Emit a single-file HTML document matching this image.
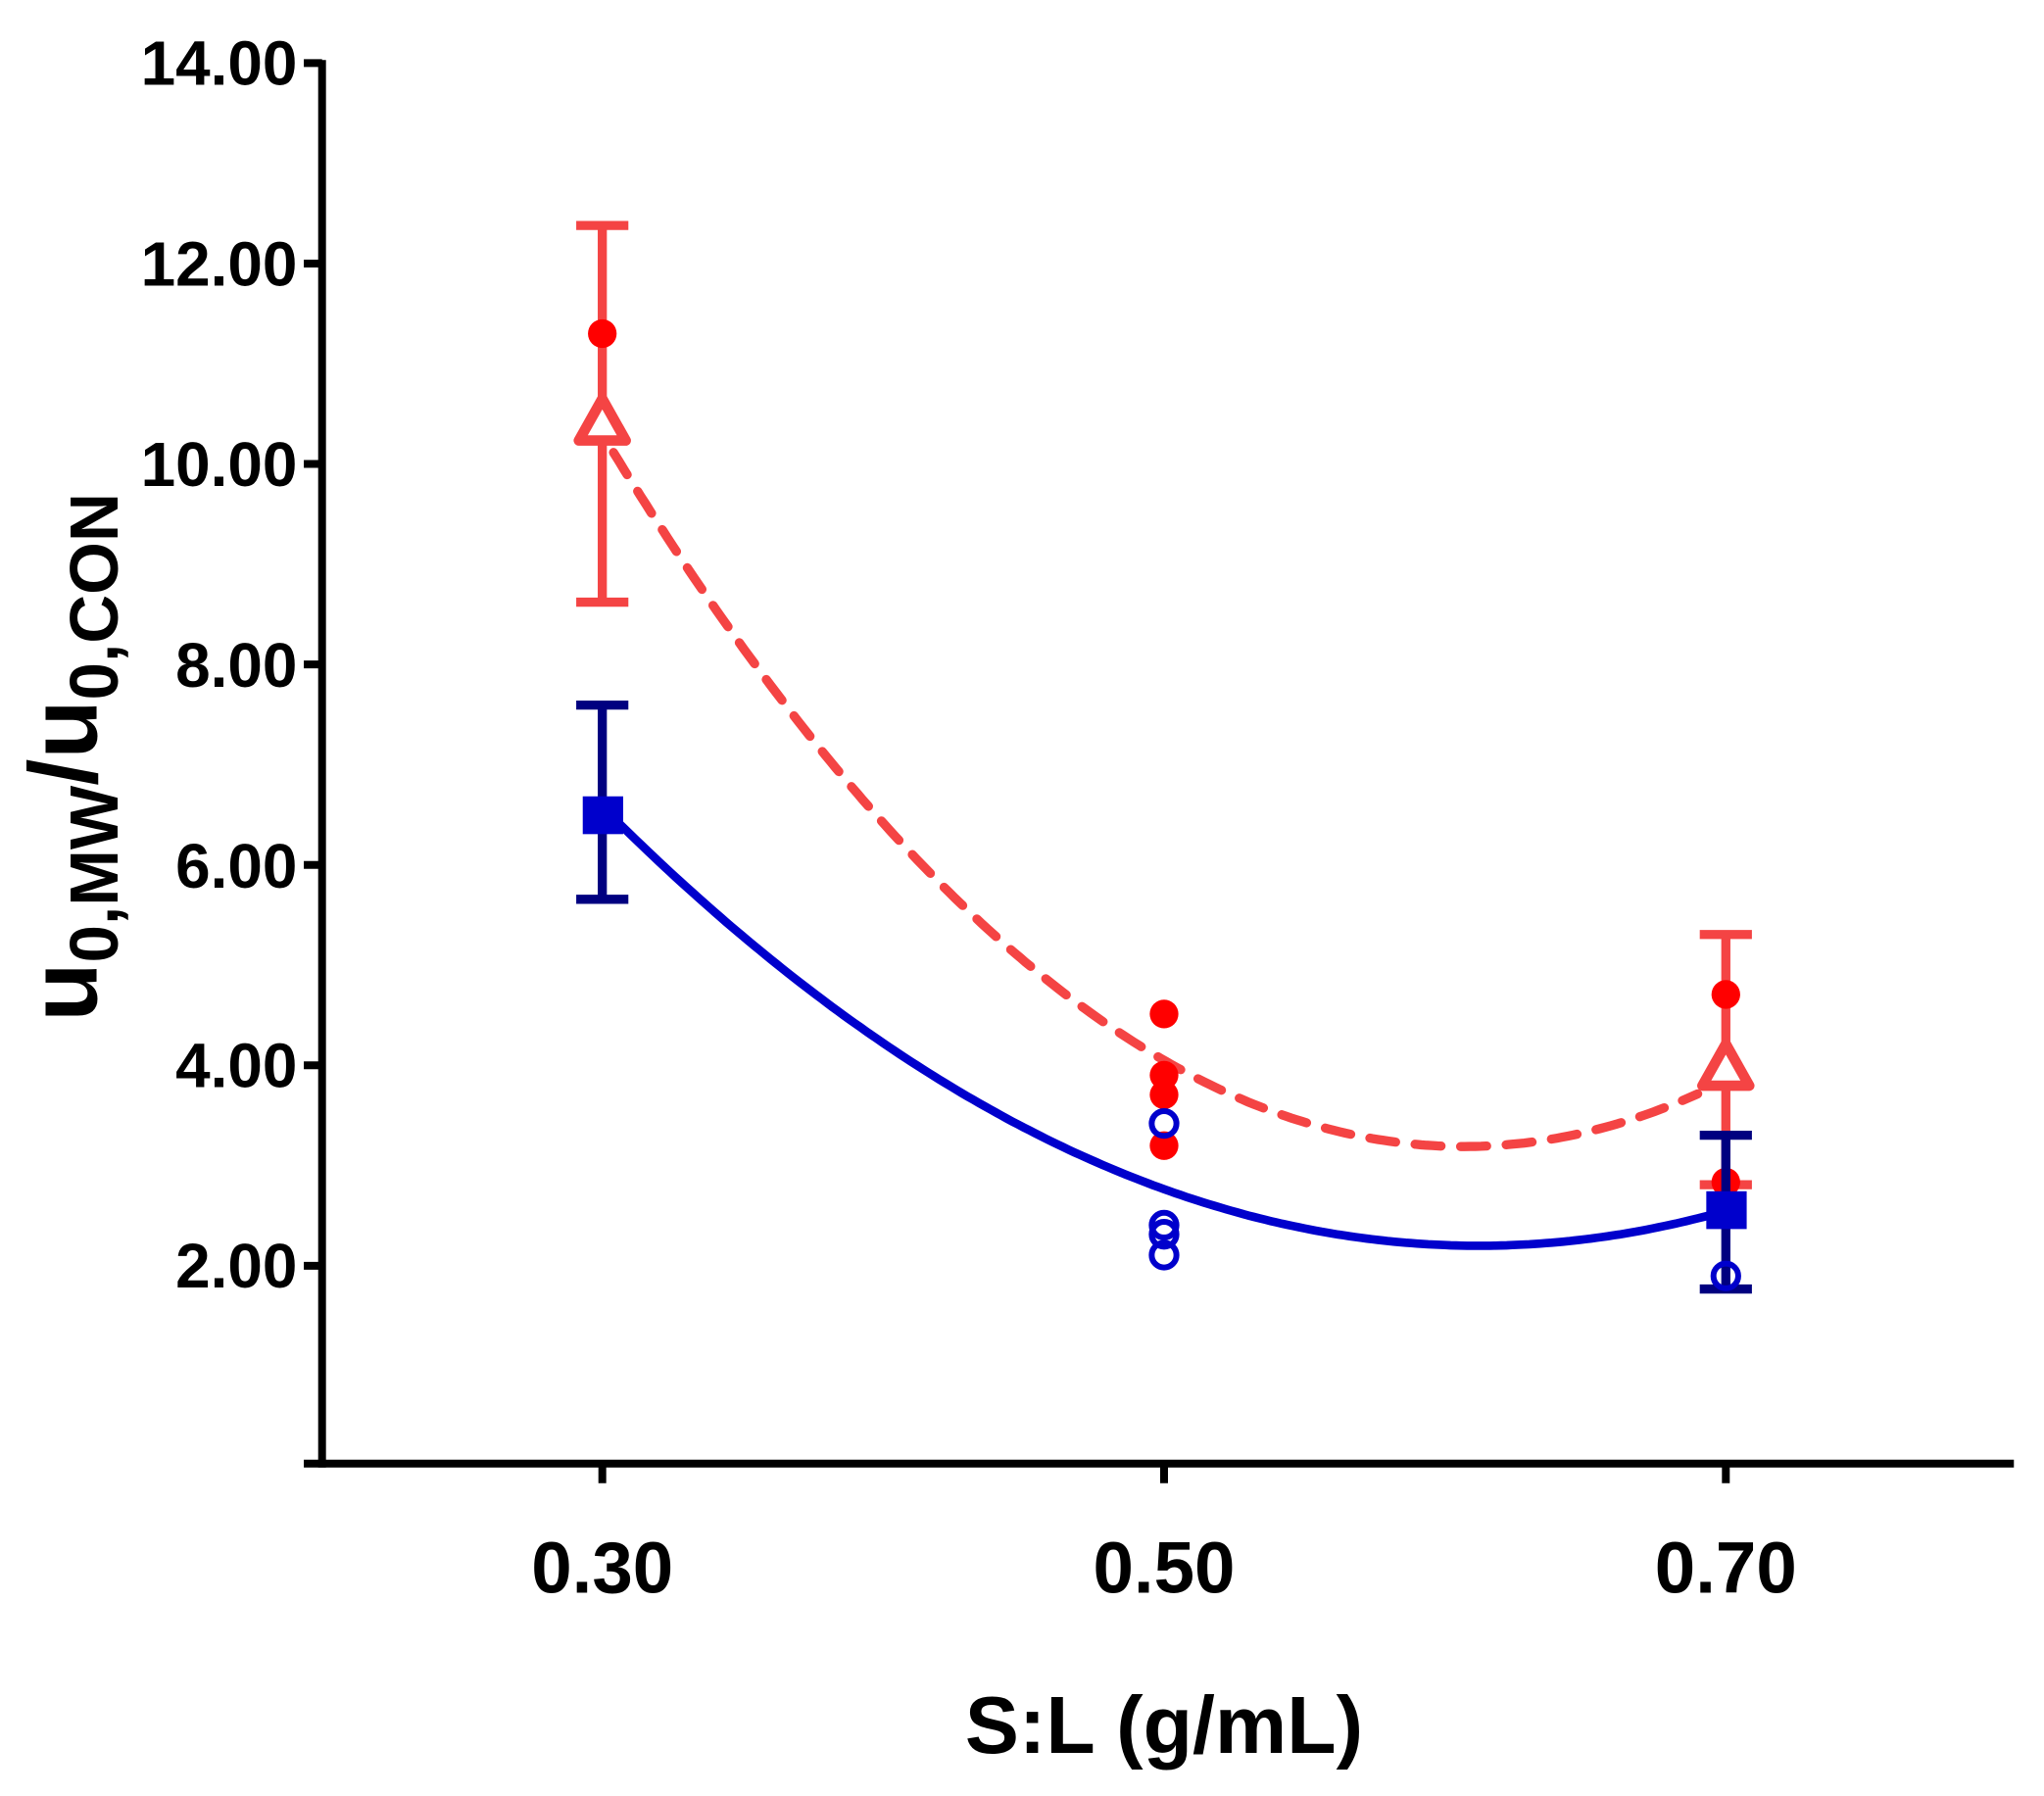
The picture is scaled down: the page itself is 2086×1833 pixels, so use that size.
<!DOCTYPE html>
<html><head><meta charset="utf-8"><style>
html,body{margin:0;padding:0;background:#fff}
svg{display:block}
text{font-family:"Liberation Sans",Arial,sans-serif;font-weight:bold;fill:#000}
</style></head><body>
<svg id="s" width="2086" height="1833" viewBox="0 0 1568 1378" xmlns="http://www.w3.org/2000/svg">
<rect width="1568" height="1378" fill="#fff"/>
<line x1="247" y1="46" x2="247" y2="1126" stroke="#000" stroke-width="6"/>
<line x1="233" y1="1123" x2="1545" y2="1123" stroke="#000" stroke-width="6"/>
<g stroke="#000" stroke-width="6">
<line x1="233" y1="48.4" x2="247" y2="48.4"/>
<line x1="233" y1="202.2" x2="247" y2="202.2"/>
<line x1="233" y1="356" x2="247" y2="356"/>
<line x1="233" y1="509.8" x2="247" y2="509.8"/>
<line x1="233" y1="663.6" x2="247" y2="663.6"/>
<line x1="233" y1="817.4" x2="247" y2="817.4"/>
<line x1="233" y1="971.2" x2="247" y2="971.2"/>
<line x1="462" y1="1123" x2="462" y2="1138"/>
<line x1="893" y1="1123" x2="893" y2="1138"/>
<line x1="1324" y1="1123" x2="1324" y2="1138"/>
</g>
<g font-size="48" text-anchor="end">
<text x="228" y="65">14.00</text>
<text x="228" y="219">12.00</text>
<text x="228" y="373">10.00</text>
<text x="228" y="527">8.00</text>
<text x="228" y="681">6.00</text>
<text x="228" y="834">4.00</text>
<text x="228" y="988">2.00</text>
</g>
<g font-size="56" text-anchor="middle">
<text x="462" y="1222">0.30</text>
<text x="893" y="1222">0.50</text>
<text x="1324" y="1222">0.70</text>
</g>
<text x="893" y="1345" font-size="62" text-anchor="middle">S:L (g/mL)</text>
<text transform="translate(74,581) rotate(-90)" font-size="74" text-anchor="middle">u<tspan font-size="52" dy="16">0,MW</tspan><tspan dy="-16">/u</tspan><tspan font-size="52" dy="16">0,CON</tspan></text>

<g id="curves"></g>

<g stroke="#F44444" stroke-width="7" fill="none">
<line x1="462" y1="173" x2="462" y2="462"/>
<line x1="442" y1="173" x2="482" y2="173"/>
<line x1="442" y1="462" x2="482" y2="462"/>
<line x1="1324" y1="717" x2="1324" y2="909"/>
<line x1="1304" y1="717" x2="1344" y2="717"/>
<line x1="1304" y1="909" x2="1344" y2="909"/>
</g>
<g fill="#FF0000">
<circle cx="462" cy="256" r="11"/>
<circle cx="893" cy="778" r="11"/>
<circle cx="893" cy="825" r="11"/>
<circle cx="893" cy="840" r="11"/>
<circle cx="893" cy="879" r="11"/>
<circle cx="1324" cy="763" r="11"/>
<circle cx="1324" cy="907" r="11"/>
</g>
<g fill="#fff" stroke="#F44444" stroke-width="8" stroke-linejoin="round">
<polygon points="462,306 444,338 480,338"/>
<polygon points="1324,801 1306,833 1342,833"/>
</g>
<g stroke="#000080" stroke-width="7">
<line x1="462" y1="541" x2="462" y2="690"/>
<line x1="442" y1="541" x2="482" y2="541"/>
<line x1="442" y1="690" x2="482" y2="690"/>
<line x1="1324" y1="871" x2="1324" y2="987"/>
<line x1="1304" y1="871" x2="1344" y2="871"/>
<line x1="1304" y1="989" x2="1344" y2="989"/>
</g>
<g fill="none" stroke="#0000CC" stroke-width="4.5">
<circle cx="893" cy="862" r="9.5"/>
<circle cx="893" cy="940" r="9.5"/>
<circle cx="893" cy="947" r="9.5"/>
<circle cx="893" cy="963" r="9.5"/>
<circle cx="1324" cy="979" r="9.5"/>
</g>
<g fill="#0000CC">
<rect x="447" y="611" width="31" height="29"/>
<rect x="1309" y="914" width="31" height="29"/>
</g>
</svg>
<script>
(function(){
 function X(v){return 462+(v-0.3)/0.2*431;}
 function Y(v){return 1125-v*76.9;}
 var g=document.getElementById('curves'),ns='http://www.w3.org/2000/svg';
 function path(f,x0,x1,attrs){
  var d='';for(var i=0;i<=200;i++){var x=x0+(x1-x0)*i/200;d+=(i?'L':'M')+X(x).toFixed(1)+' '+Y(f(x)).toFixed(1);}
  var p=document.createElementNS(ns,'path');p.setAttribute('d',d);
  for(var k in attrs)p.setAttribute(k,attrs[k]);g.appendChild(p);
 }
 path(function(x){return 4.05-16.125*(x-0.5)+75.6*(x-0.5)*(x-0.5);},0.304,0.69,
  {fill:'none',stroke:'#F44444','stroke-width':7,'stroke-dasharray':'20 15','stroke-linecap':'round'});
 path(function(x){return 2.2+45*(x-0.612)*(x-0.612);},0.3,0.7,
  {fill:'none',stroke:'#0000CC','stroke-width':6.5});
})();
</script>
</body></html>
